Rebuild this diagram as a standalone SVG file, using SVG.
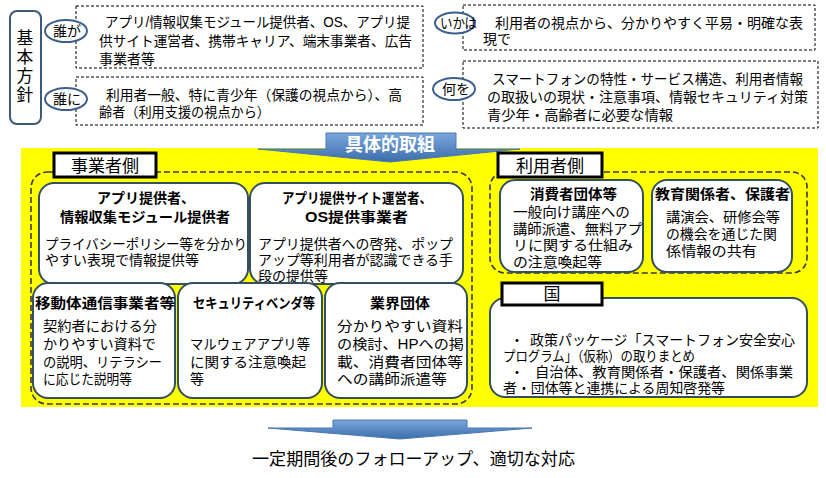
<svg xmlns="http://www.w3.org/2000/svg" width="826" height="478" viewBox="0 0 826 478">
<defs>
<linearGradient id="blue" x1="0" y1="0" x2="0" y2="1">
<stop offset="0" stop-color="#7aa7dc"/>
<stop offset="1" stop-color="#3c6eac"/>
</linearGradient>
<style>
text{font-family:"Liberation Sans","Noto Sans CJK JP","Noto Sans CJK SC",sans-serif;fill:#000;}
.t{font-size:14px;}
.b{font-size:14px;}
.h{font-size:14px;font-weight:bold;}
.lbl{font-size:17px;}
.dash{fill:#fff;stroke:#000;stroke-width:1;stroke-dasharray:3 2;}
.ell{fill:#fff;stroke:#3b5f8c;stroke-width:2;}
.node{fill:#fff;stroke:#34505f;stroke-width:2;}
.tag{fill:#fff;stroke:#000;stroke-width:3;}
.grp{fill:none;stroke:#3a3a3a;stroke-width:1.6;stroke-dasharray:6 3;}
.arrow{fill:url(#blue);stroke:#4a78b0;stroke-width:1;}
</style>
</defs>
<rect x="0" y="0" width="826" height="478" fill="#fff"/>

<g id="kihon">
<rect x="10" y="11" width="31" height="113" rx="7" fill="#fff" stroke="#3b5a7a" stroke-width="2"/>
<text font-size="16.8" text-anchor="middle"><tspan x="25" y="44">基</tspan><tspan x="25" y="63">本</tspan><tspan x="25" y="82">方</tspan><tspan x="25" y="101">針</tspan></text>
</g>

<g id="darega">
<rect class="dash" x="76" y="6" width="347" height="62"/>
<ellipse class="ell" cx="66" cy="31" rx="21" ry="11"/>
<text class="t" x="67" y="36" text-anchor="middle">誰が</text>
<text class="t"><tspan x="105" y="27" textLength="305" lengthAdjust="spacingAndGlyphs">アプリ/情報収集モジュール提供者、OS、アプリ提</tspan><tspan x="99" y="45.5" textLength="313" lengthAdjust="spacingAndGlyphs">供サイト運営者、携帯キャリア、端末事業者、広告</tspan><tspan x="99" y="64">事業者等</tspan></text>
</g>

<g id="dareni">
<rect class="dash" x="76" y="77" width="347" height="48"/>
<ellipse class="ell" cx="66" cy="99" rx="21" ry="11"/>
<text class="t" x="67" y="104" text-anchor="middle">誰に</text>
<text class="t"><tspan x="106" y="100" textLength="296" lengthAdjust="spacingAndGlyphs">利用者一般、特に青少年（保護の視点から）、高</tspan><tspan x="99" y="117" textLength="171" lengthAdjust="spacingAndGlyphs">齢者（利用支援の視点から）</tspan></text>
</g>

<g id="ikani">
<rect class="dash" x="463" y="5" width="352" height="45"/>
<ellipse class="ell" cx="455" cy="23" rx="20" ry="10.5"/>
<text class="t" x="440" y="28" textLength="37" lengthAdjust="spacingAndGlyphs">いかは</text>
<text class="t"><tspan x="495" y="28" textLength="308" lengthAdjust="spacingAndGlyphs">利用者の視点から、分かりやすく平易・明確な表</tspan><tspan x="483" y="44">現で</tspan></text>
</g>

<g id="naniwo">
<rect class="dash" x="463" y="61" width="355" height="67"/>
<ellipse class="ell" cx="454" cy="89" rx="21" ry="11"/>
<text class="t" x="456" y="94" text-anchor="middle">何を</text>
<text class="t"><tspan x="492" y="84" textLength="311" lengthAdjust="spacingAndGlyphs">スマートフォンの特性・サービス構造、利用者情報</tspan><tspan x="487" y="102" textLength="321" lengthAdjust="spacingAndGlyphs">の取扱いの現状・注意事項、情報セキュリティ対策</tspan><tspan x="487" y="120" textLength="186" lengthAdjust="spacingAndGlyphs">青少年・高齢者に必要な情報</tspan></text>
</g>

<rect id="yellow" x="21" y="148" width="797" height="259" fill="#ffff00"/>

<g id="connectors">
<path class="arrow" d="M326,133 H456 V149 H520 L390,162 L258,149 H326 Z"/>
<text x="390" y="151" text-anchor="middle" font-size="18" font-weight="bold" style="fill:#fff">具体的取組</text>
<path class="arrow" d="M333,420 H467 V428 H532 L400,439 L268,428 H333 Z"/>
</g>

<g id="jigyosha">
<rect class="grp" x="31" y="172" width="441" height="232" rx="16"/>
<rect class="tag" x="54" y="153" width="102" height="24"/>
<text class="lbl" x="105" y="171.5" text-anchor="middle">事業者側</text>
</g>

<g id="app">
<rect class="node" x="39" y="183" width="209" height="101" rx="15"/>
<text class="h"><tspan x="97" y="203">アプリ提供者、</tspan><tspan x="60" y="222" textLength="170" lengthAdjust="spacingAndGlyphs">情報収集モジュール提供者</tspan></text>
<text class="b"><tspan x="45" y="249" textLength="202" lengthAdjust="spacingAndGlyphs">プライバシーポリシー等を分かり</tspan><tspan x="45" y="265">やすい表現で情報提供等</tspan></text>
</g>

<g id="site">
<rect class="node" x="250" y="183" width="213" height="101" rx="15"/>
<text class="h"><tspan x="282" y="203" textLength="150" lengthAdjust="spacingAndGlyphs">アプリ提供サイト運営者、</tspan><tspan x="305" y="222" textLength="103" lengthAdjust="spacingAndGlyphs">OS提供事業者</tspan></text>
<text class="b"><tspan x="258" y="249" textLength="195" lengthAdjust="spacingAndGlyphs">アプリ提供者への啓発、ポップ</tspan><tspan x="258" y="265" textLength="195" lengthAdjust="spacingAndGlyphs">アップ等利用者が認識できる手</tspan><tspan x="258" y="281">段の提供等</tspan></text>
</g>

<g id="mobile">
<rect class="node" x="33" y="283" width="142" height="115" rx="15"/>
<text class="h" x="35" y="308" textLength="140" lengthAdjust="spacingAndGlyphs">移動体通信事業者等</text>
<text class="b"><tspan x="43" y="331" textLength="114" lengthAdjust="spacingAndGlyphs">契約者における分</tspan><tspan x="43" y="349" textLength="113" lengthAdjust="spacingAndGlyphs">かりやすい資料で</tspan><tspan x="43" y="367" textLength="119" lengthAdjust="spacingAndGlyphs">の説明、リテラシー</tspan><tspan x="43" y="384" textLength="89" lengthAdjust="spacingAndGlyphs">に応じた説明等</tspan></text>
</g>

<g id="security">
<rect class="node" x="178" y="283" width="144" height="115" rx="15"/>
<text class="h" x="193" y="308" textLength="122" lengthAdjust="spacingAndGlyphs">セキュリティベンダ等</text>
<text class="b"><tspan x="190" y="349" textLength="120" lengthAdjust="spacingAndGlyphs">マルウェアアプリ等</tspan><tspan x="190" y="367" textLength="116" lengthAdjust="spacingAndGlyphs">に関する注意喚起</tspan><tspan x="190" y="384">等</tspan></text>
</g>

<g id="gyokai">
<rect class="node" x="325" y="283" width="142" height="115" rx="15"/>
<text class="h" x="370" y="308" textLength="60" lengthAdjust="spacingAndGlyphs">業界団体</text>
<text class="b"><tspan x="337" y="331" textLength="126" lengthAdjust="spacingAndGlyphs">分かりやすい資料</tspan><tspan x="337" y="349" textLength="127" lengthAdjust="spacingAndGlyphs">の検討、HPへの掲</tspan><tspan x="337" y="367" textLength="126" lengthAdjust="spacingAndGlyphs">載、消費者団体等</tspan><tspan x="337" y="384" textLength="110" lengthAdjust="spacingAndGlyphs">への講師派遣等</tspan></text>
</g>

<g id="riyosha">
<rect class="grp" x="490" y="172" width="317" height="101" rx="15"/>
<rect class="tag" x="498" y="153" width="104" height="24"/>
<text class="lbl" x="550" y="171.5" text-anchor="middle">利用者側</text>
</g>

<g id="shohisha">
<rect class="node" x="500" y="180" width="143" height="92" rx="15"/>
<text class="h" x="530" y="199" textLength="87" lengthAdjust="spacingAndGlyphs">消費者団体等</text>
<text class="b"><tspan x="513" y="217" textLength="117" lengthAdjust="spacingAndGlyphs">一般向け講座への</tspan><tspan x="513" y="233.5" textLength="129" lengthAdjust="spacingAndGlyphs">講師派遣、無料アプ</tspan><tspan x="513" y="250" textLength="120" lengthAdjust="spacingAndGlyphs">リに関する仕組み</tspan><tspan x="513" y="267" textLength="89" lengthAdjust="spacingAndGlyphs">の注意喚起等</tspan></text>
</g>

<g id="kyoiku">
<rect class="node" x="652" y="180" width="140" height="92" rx="15"/>
<text class="h" x="655" y="199" textLength="135" lengthAdjust="spacingAndGlyphs">教育関係者、保護者</text>
<text class="b"><tspan x="666" y="222" textLength="114" lengthAdjust="spacingAndGlyphs">講演会、研修会等</tspan><tspan x="666" y="239" textLength="111" lengthAdjust="spacingAndGlyphs">の機会を通じた関</tspan><tspan x="666" y="256" textLength="91" lengthAdjust="spacingAndGlyphs">係情報の共有</tspan></text>
</g>

<g id="kuni">
<rect class="node" x="490" y="298" width="317" height="99" rx="15"/>
<rect class="tag" x="502" y="283" width="100" height="22"/>
<text class="lbl" x="552" y="300" text-anchor="middle" font-size="15">国</text>
<text class="t"><tspan x="510" y="345">・</tspan><tspan x="530" y="345" textLength="265" lengthAdjust="spacingAndGlyphs">政策パッケージ「スマートフォン安全安心</tspan><tspan x="503" y="361" textLength="192" lengthAdjust="spacingAndGlyphs">プログラム」（仮称）の取りまとめ</tspan><tspan x="510" y="377">・</tspan><tspan x="535" y="377" textLength="258" lengthAdjust="spacingAndGlyphs">自治体、教育関係者・保護者、関係事業</tspan><tspan x="503" y="393" textLength="222" lengthAdjust="spacingAndGlyphs">者・団体等と連携による周知啓発等</tspan></text>
</g>

<g id="followup">
<text x="252" y="465" font-size="17" textLength="323" lengthAdjust="spacingAndGlyphs">一定期間後のフォローアップ、適切な対応</text>
</g>
</svg>
